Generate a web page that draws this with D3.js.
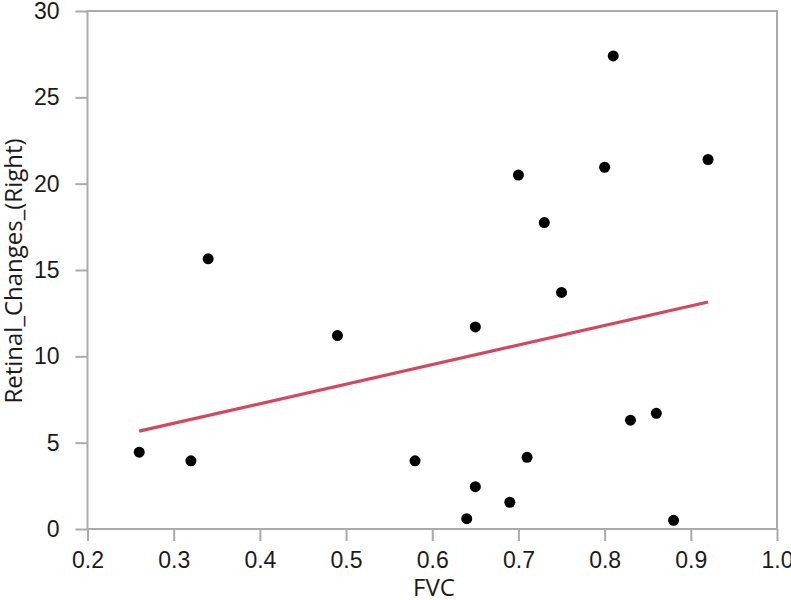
<!DOCTYPE html>
<html><head><meta charset="utf-8">
<script src="https://cdn.jsdelivr.net/npm/d3@7"></script>
<style>body{margin:0;background:#fff;} text{font-family:"Liberation Sans",Arial,sans-serif;}</style>
</head><body><svg id="c" width="791" height="600"></svg>
<script>
const fvc = [0.26,0.32,0.34,0.49,0.58,0.64,0.65,0.65,0.69,0.70,0.71,0.73,0.75,0.80,0.81,0.83,0.86,0.88,0.92];
const retinal = [4.45,3.95,15.65,11.2,3.95,0.6,11.7,2.45,1.55,20.5,4.15,17.75,13.7,20.95,27.4,6.3,6.7,0.5,21.4];
const fitX = [0.26,0.92];
const fitY = [5.67,13.15];
const xTicks = [0.2,0.3,0.4,0.5,0.6,0.7,0.8,0.9,1.0];
const yTicks = [0,5,10,15,20,25,30];

const svg = d3.select("#c");
const L=87.5,R=777,T=11,B=529;
const x = d3.scaleLinear().domain([0.2,1.0]).range([L,R]);
const y = d3.scaleLinear().domain([0,30]).range([B,T]);
const axisColor="#aaaaaa";

const gx = svg.append("g").attr("transform",`translate(0,${B})`)
  .call(d3.axisBottom(x).tickValues(xTicks).tickFormat(d3.format(".1f")).tickSize(12).tickPadding(11));
const gy = svg.append("g").attr("transform",`translate(${L},0)`)
  .call(d3.axisLeft(y).tickValues(yTicks).tickFormat(d3.format("d")).tickSize(12).tickPadding(16));
[gx,gy].forEach(g=>{
  g.select(".domain").remove();
  g.selectAll(".tick line").attr("stroke",axisColor).attr("stroke-width",2);
  g.selectAll(".tick text").attr("fill","#1a1a1a").style("font-size","23px");
});
// frame
svg.append("rect").attr("x",L).attr("y",T).attr("width",R-L).attr("height",B-T)
  .attr("fill","none").attr("stroke",axisColor).attr("stroke-width",2);

svg.append("line").attr("x1",x(fitX[0])).attr("y1",y(fitY[0])).attr("x2",x(fitX[1])).attr("y2",y(fitY[1]))
  .attr("stroke","#d3485c").attr("stroke-width",3.2);

svg.selectAll("circle.pt").data(fvc).join("circle").attr("class","pt")
  .attr("cx",d=>x(d)).attr("cy",(d,i)=>y(retinal[i])).attr("r",5.5).attr("fill","#000");

svg.append("text").attr("x",434).attr("y",596).attr("text-anchor","middle")
  .attr("fill","#1a1a1a").style("font-family","'Open Sans',sans-serif").style("font-size","24px").text("FVC");
svg.append("text").attr("transform","translate(22,271) rotate(-90)").attr("text-anchor","middle")
  .attr("fill","#1a1a1a").style("font-family","'Open Sans',sans-serif").style("font-size","24px").text("Retinal_Changes_(Right)");
</script></body></html>
